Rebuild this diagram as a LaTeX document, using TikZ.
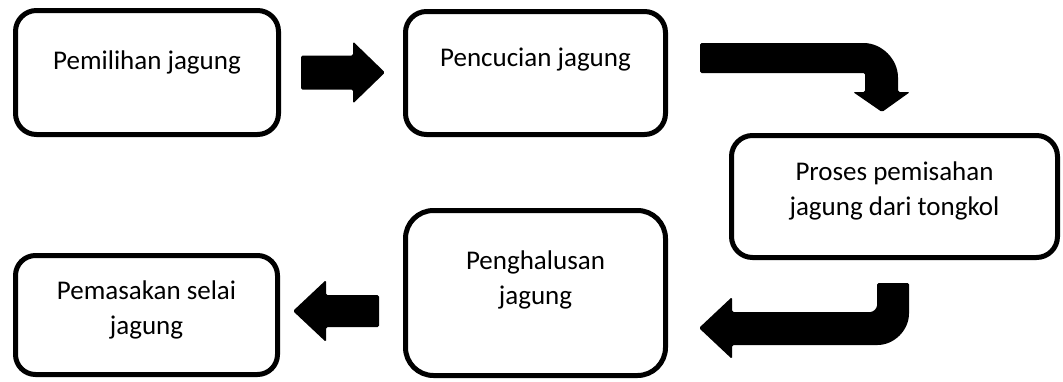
\documentclass[tikz,border=0pt]{standalone}
\usepackage{fontspec}
\setmainfont{Carlito}
\usepackage{tikz}
\usetikzlibrary{positioning,calc}

\begin{document}
\begin{tikzpicture}[x=1pt, y=1pt,
    stage/.style={draw=black, line width=5pt, rounded corners=#1, fill=white},
    stage/.default=21pt,
    caption/.style={align=center, inner sep=0pt, font=\fontsize{27}{35}\selectfont},
    blockarrow/.style={fill=black, rounded corners=1.5pt}]
    \useasboundingbox (0,0) rectangle (1063,-381);

    % Process stages
    \node[stage, minimum width=263pt, minimum height=124pt] (pemilihan) at (147,-72.5) {};
    \node[stage, minimum width=260pt, minimum height=123pt] (pencucian) at (535.5,-73) {};
    \node[stage, minimum width=326pt, minimum height=122pt] (pemisahan) at (894.5,-196.5) {};
    \node[stage=28pt, minimum width=260pt, minimum height=165pt] (penghalusan) at (535.5,-293) {};
    \node[stage=20pt, minimum width=262pt, minimum height=119pt] (pemasakan) at (146.5,-315) {};

    % Stage texts
    \node[caption] (pemilihan-txt) at ($(pemilihan.center)+(0,10.5)$) {Pemilihan jagung};
    \node[caption] (pencucian-txt) at ($(pencucian.center)+(0,13)$) {Pencucian jagung};
    \node[caption] (pemisahan-txt) at ($(pemisahan.center)+(0,6)$) {Proses pemisahan\\jagung dari tongkol};
    \node[caption] (penghalusan-txt) at ($(penghalusan.center)+(0,13.5)$) {Penghalusan\\jagung};
    \node[caption] (pemasakan-txt) at ($(pemasakan.center)+(0,5.5)$) {Pemasakan selai\\jagung};

    % Straight arrow (right)
    \fill[blockarrow] ($(pemilihan.east)+(20,17)$) -- ++(52,0) -- ++(0,14)
        -- ++(32,-31) -- ++(-32,-31) -- ++(0,14) -- ++(-52,0) -- cycle;

    % Bent arrow down to the third stage
    \coordinate (bendA) at ($(pencucian.east)+(32,30)$);
    \fill[blockarrow] (bendA) -- ++(162,0) arc[start angle=90, end angle=0, radius=36]
        -- ++(0,-13) -- ++(12,0) -- ++(-28,-20) -- ++(-29,20) -- ++(12,0)
        -- ++(0,16) arc[start angle=0, end angle=90, radius=3] -- ++(-162,0) -- cycle;

    % Bent arrow back to the left
    \coordinate (bendB) at ($(pemisahan.south)+(-17.5,-23)$);
    \fill[blockarrow] (bendB) -- ++(32,0) -- ++(0,-29) arc[start angle=0, end angle=-90, radius=33]
        -- ++(-144,0) -- ++(0,-14) -- ++(-33,31) -- ++(33,31) -- ++(0,-15)
        -- ++(137,0) arc[start angle=-90, end angle=0, radius=8] -- cycle;

    % Straight arrow (left)
    \fill[blockarrow] ($(pemasakan.east)+(13,4)$) -- ++(33,31) -- ++(0,-15) -- ++(53,0)
        -- ++(0,-32) -- ++(-53,0) -- ++(0,-15) -- cycle;
\end{tikzpicture}
\end{document}
